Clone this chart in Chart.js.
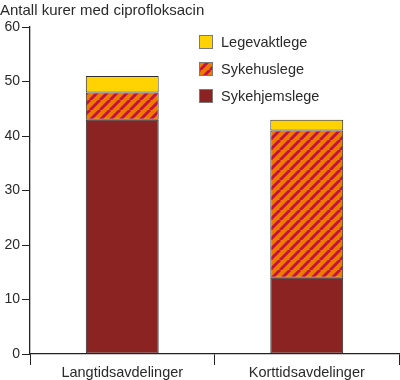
<!DOCTYPE html>
<html><head><meta charset="utf-8">
<script src="https://cdn.jsdelivr.net/npm/chart.js@4"></script>
<style>html,body{margin:0;padding:0;background:#fff}#wrap{width:400px;height:380px}</style>
</head><body><div id="wrap"><canvas id="c" width="400" height="380"></canvas></div>
<script>
const categories = ['Langtidsavdelinger', 'Korttidsavdelinger'];
const sykehjemslege = [43, 14];
const sykehuslege = [5, 27];
const legevaktlege = [3, 2];
const seriesNames = ['Sykehjemslege', 'Sykehuslege', 'Legevaktlege'];
const yTicks = [0, 10, 20, 30, 40, 50, 60];
const titleText = 'Antall kurer med ciprofloksacin';

function stripes() {
  const s = 10, c = document.createElement('canvas');
  c.width = s; c.height = s;
  const g = c.getContext('2d');
  g.fillStyle = '#EE7A00'; g.fillRect(0, 0, s, s);
  g.strokeStyle = '#C3123E'; g.lineWidth = 3.0;
  for (const x0 of [-s, 0, s]) { g.beginPath(); g.moveTo(x0, s); g.lineTo(x0 + s, 0); g.stroke(); }
  return g.createPattern(c, 'repeat');
}
const pat = stripes();
const FONT = '"Liberation Sans", Arial, sans-serif';

const legendPlugin = {
  id: 'customLegend',
  afterDraw(chart) {
    const ctx = chart.ctx;
    const ds = chart.data.datasets.slice().reverse();
    ctx.save();
    ds.forEach((d, i) => {
      const x = 199, y = 35 + i * 27;
      ctx.fillStyle = d.backgroundColor;
      ctx.fillRect(x, y, 14, 14);
      ctx.strokeStyle = '#7a7a7a'; ctx.lineWidth = 1;
      ctx.strokeRect(x + 0.5, y + 0.5, 13, 13);
      ctx.fillStyle = '#2a2a2a';
      ctx.font = '14.5px ' + FONT;
      ctx.textBaseline = 'middle';
      ctx.fillText(d.label, 221, y + 7.5);
    });
    ctx.restore();
  }
};

new Chart(document.getElementById('c'), {
  type: 'bar',
  data: {
    labels: categories,
    datasets: [
      { label: seriesNames[0], data: sykehjemslege, backgroundColor: '#8B2323' },
      { label: seriesNames[1], data: sykehuslege, backgroundColor: pat },
      { label: seriesNames[2], data: legevaktlege, backgroundColor: '#FFD200' }
    ].map(d => Object.assign(d, { borderColor: '#2e2e2e', borderWidth: 1, borderSkipped: false, categoryPercentage: 1, barPercentage: 0.395 }))
  },
  options: {
    responsive: false,
    animation: false,
    layout: { padding: { left: 0, right: 1, top: 0, bottom: 0 } },
    plugins: {
      legend: { display: false },
      tooltip: { enabled: false },
      title: { display: true, text: titleText, align: 'start', color: '#2a2a2a',
               font: { family: FONT, size: 15, weight: 'normal' }, padding: { top: 2, bottom: 7 } }
    },
    scales: {
      x: {
        stacked: true,
        grid: { drawOnChartArea: false, drawTicks: true, tickLength: 11, color: '#222', offset: true },
        border: { color: '#222', width: 1.3 },
        ticks: { color: '#2a2a2a', padding: -1, font: { family: FONT, size: 14.5 } },
        afterFit(s) { s.height = 26; }
      },
      y: {
        stacked: true, min: 0, max: 60,
        afterBuildTicks(s) { s.ticks = yTicks.map(v => ({ value: v })); },
        grid: { drawOnChartArea: false, tickLength: 8, color: '#222' },
        border: { color: '#222', width: 1.3 },
        ticks: { color: '#2a2a2a', padding: 2, font: { family: FONT, size: 14 } },
        afterFit(s) { s.width = 30; }
      }
    }
  },
  plugins: [legendPlugin]
});
</script></body></html>
